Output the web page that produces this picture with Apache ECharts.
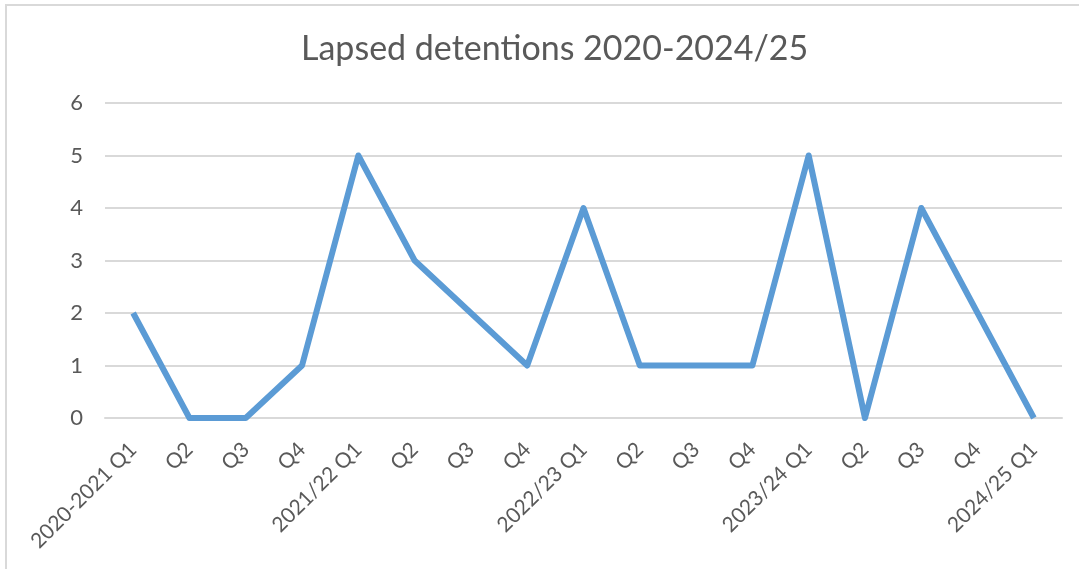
<!DOCTYPE html>
<html>
<head>
<meta charset="utf-8">
<script src="https://cdn.jsdelivr.net/npm/echarts@6/dist/echarts.min.js"></script>
<style>
html,body{margin:0;padding:0;background:#fff;}
#c{width:1079px;height:569px;}
</style>
</head>
<body>
<div id="c"></div>
<script>
const titleText = 'Lapsed detentions 2020-2024/25';
const categories = ['2020-2021 Q1','Q2','Q3','Q4','2021/22 Q1','Q2','Q3','Q4','2022/23 Q1','Q2','Q3','Q4','2023/24 Q1','Q2','Q3','Q4','2024/25 Q1'];
const values = [2,0,0,1,5,3,2,1,4,1,1,1,5,0,4,2,0];
const yTicks = [0,1,2,3,4,5,6];

const chart = echarts.init(document.getElementById('c'), null, {renderer:'canvas'});
const font = 'Lato, "Open Sans", sans-serif';
chart.setOption({
  animation:false,
  backgroundColor:'#ffffff',
  title:{
    text:titleText,
    left:296,
    top:27,
    textStyle:{fontFamily:font,fontSize:34,fontWeight:'normal',color:'#595959'}
  },
  graphic:[{
    type:'rect',
    shape:{x:6,y:5,width:2000,height:2000},
    style:{fill:'none',stroke:'#d9d9d9',lineWidth:2},
    silent:true
  }],
  grid:{left:105,right:17,top:103,bottom:151,containLabel:false},
  xAxis:{
    type:'category',
    data:categories,
    boundaryGap:true,
    axisLine:{show:true,lineStyle:{color:'#d9d9d9',width:2}},
    axisTick:{show:false},
    axisLabel:{rotate:45,margin:28,interval:0,fontFamily:font,fontSize:21,color:'#595959'}
  },
  yAxis:{
    type:'value',
    min:yTicks[0],
    max:yTicks[yTicks.length-1],
    interval:1,
    axisLine:{show:false},
    axisTick:{show:false},
    splitLine:{show:true,lineStyle:{color:'#d9d9d9',width:2}},
    axisLabel:{margin:22,fontFamily:font,fontSize:22,color:'#595959'}
  },
  series:[{
    type:'line',
    data:values,
    symbol:'none',
    lineStyle:{color:'#5b9bd5',width:6,join:'round'},
    itemStyle:{color:'#5b9bd5'}
  }]
});
</script>
</body>
</html>
